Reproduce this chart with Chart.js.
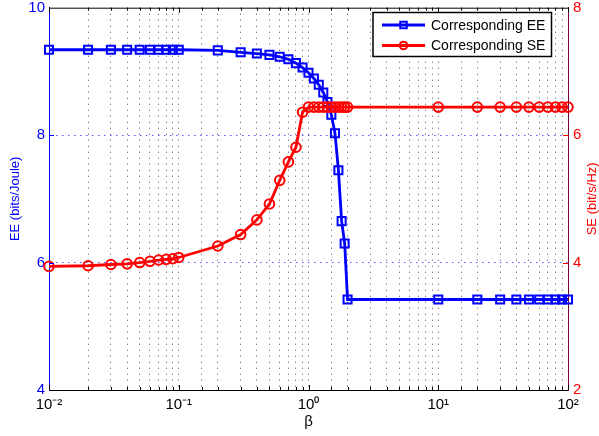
<!DOCTYPE html>
<html>
<head>
<meta charset="utf-8">
<script src="https://cdn.jsdelivr.net/npm/chart.js@4.4.0/dist/chart.umd.min.js"></script>
<style>
  html, body { margin: 0; padding: 0; background: #fff; }
  #wrap { width: 599px; height: 436px; }
</style>
</head>
<body>
<div id="wrap"><canvas id="chart" width="599" height="436"></canvas></div>
<script>
// beta values (log x axis)
const betaValues = [
  0.01, 0.02, 0.03, 0.04, 0.05, 0.06, 0.07, 0.08, 0.09, 0.1,
  0.2, 0.3, 0.4, 0.5, 0.6, 0.7, 0.8, 0.9, 1.0,
  1.1, 1.2, 1.3, 1.4, 1.5, 1.6, 1.7, 1.8, 1.9, 2.0,
  10, 20, 30, 40, 50, 60, 70, 80, 90, 100
];
// energy efficiency, left axis
const eeValues = [
  9.34, 9.34, 9.34, 9.34, 9.34, 9.34, 9.34, 9.34, 9.34, 9.34,
  9.33, 9.30, 9.28, 9.26, 9.23, 9.19, 9.13, 9.06, 8.98,
  8.89, 8.79, 8.67, 8.52, 8.32, 8.03, 7.45, 6.65, 6.30, 5.42,
  5.42, 5.42, 5.42, 5.42, 5.42, 5.42, 5.42, 5.42, 5.42, 5.42
];
// spectral efficiency, right axis
const seValues = [
  3.94, 3.95, 3.97, 3.98, 4.00, 4.02, 4.04, 4.05, 4.06, 4.08,
  4.26, 4.44, 4.67, 4.92, 5.29, 5.58, 5.81, 6.36, 6.44,
  6.44, 6.44, 6.44, 6.44, 6.44, 6.44, 6.44, 6.44, 6.44, 6.44,
  6.44, 6.44, 6.44, 6.44, 6.44, 6.44, 6.44, 6.44, 6.44, 6.44
];
const xTickValues = [0.01, 0.1, 1, 10, 100];
const xTickLabels = ["10⁻²", "10⁻¹", "10⁰", "10¹", "10²"];
const seriesNames = ["Corresponding EE", "Corresponding SE"];

const FONT = "'Liberation Sans', Arial, sans-serif";
const BLUE = "#0000ff";
const RED = "#ff0000";

function isDecade(v) {
  const l = Math.log10(v);
  return Math.abs(l - Math.round(l)) < 1e-6;
}

const extras = {
  id: "extras",
  afterDraw(chart) {
    const ctx = chart.ctx;
    const a = chart.chartArea;
    const x = chart.scales.x;
    const yl = chart.scales.y;
    const yr = chart.scales.y1;
    ctx.save();

    // top border
    ctx.strokeStyle = "#000";
    ctx.lineWidth = 1;
    ctx.beginPath();
    ctx.moveTo(a.left, a.top + 0.5);
    ctx.lineTo(a.right, a.top + 0.5);
    ctx.stroke();

    // inward x tick marks, bottom and top
    x.ticks.forEach(t => {
      const px = Math.round(x.getPixelForValue(t.value)) + 0.5;
      const len = isDecade(t.value) ? 5 : 3;
      ctx.beginPath();
      ctx.moveTo(px, a.bottom);
      ctx.lineTo(px, a.bottom - len);
      ctx.moveTo(px, a.top);
      ctx.lineTo(px, a.top + len);
      ctx.stroke();
    });

    // inward y tick marks
    [6, 8].forEach(v => {
      const py = Math.round(yl.getPixelForValue(v)) + 0.5;
      ctx.strokeStyle = BLUE;
      ctx.beginPath();
      ctx.moveTo(a.left, py);
      ctx.lineTo(a.left + 5, py);
      ctx.stroke();
    });
    [4, 6].forEach(v => {
      const py = Math.round(yr.getPixelForValue(v)) + 0.5;
      ctx.strokeStyle = RED;
      ctx.beginPath();
      ctx.moveTo(a.right, py);
      ctx.lineTo(a.right - 5, py);
      ctx.stroke();
    });

    // axis titles
    const midY = (a.top + a.bottom) / 2;
    ctx.font = "13px " + FONT;
    ctx.textAlign = "center";
    ctx.textBaseline = "middle";
    ctx.fillStyle = BLUE;
    ctx.save();
    ctx.translate(15, midY);
    ctx.rotate(-Math.PI / 2);
    ctx.fillText("EE (bits/Joule)", 0, 0);
    ctx.restore();
    ctx.fillStyle = RED;
    ctx.save();
    ctx.translate(592, midY);
    ctx.rotate(-Math.PI / 2);
    ctx.fillText("SE (bit/s/Hz)", 0, 0);
    ctx.restore();
    ctx.fillStyle = "#000";
    ctx.font = "15px " + FONT;
    ctx.fillText("β", (a.left + a.right) / 2, 422);

    // legend
    const lx = 373, ly = 12.5, lw = 178.5, lh = 44;
    ctx.fillStyle = "#fff";
    ctx.fillRect(lx, ly, lw, lh);
    ctx.strokeStyle = "#000";
    ctx.lineWidth = 1.5;
    ctx.strokeRect(lx, ly, lw, lh);
    const rows = [
      { y: 25, color: BLUE, style: "rect", r: 4.6 },
      { y: 45.5, color: RED, style: "circle", r: 3.8 }
    ];
    rows.forEach((row, i) => {
      ctx.strokeStyle = row.color;
      ctx.lineWidth = 2.8;
      ctx.beginPath();
      ctx.moveTo(382, row.y);
      ctx.lineTo(425, row.y);
      ctx.stroke();
      ctx.lineWidth = 2;
      ctx.fillStyle = "rgba(0,0,0,0)";
      Chart.helpers.drawPoint(ctx, { pointStyle: row.style, radius: row.r, borderWidth: 2, rotation: 0 }, 403.5, row.y);
      ctx.fillStyle = "#000";
      ctx.font = "14px " + FONT;
      ctx.textAlign = "left";
      ctx.textBaseline = "middle";
      ctx.fillText(seriesNames[i], 431, row.y + 1);
    });

    ctx.restore();
  }
};

new Chart(document.getElementById("chart"), {
  type: "line",
  data: {
    datasets: [
      {
        label: seriesNames[0],
        data: betaValues.map((b, i) => ({ x: b, y: eeValues[i] })),
        yAxisID: "y",
        borderColor: BLUE,
        backgroundColor: "rgba(0,0,0,0)",
        borderWidth: 2.8,
        pointStyle: "rect",
        pointRadius: 5.7,
        pointBorderWidth: 2,
        pointBorderColor: BLUE,
        pointBackgroundColor: "rgba(0,0,0,0)",
        tension: 0,
        clip: false,
        order: 2
      },
      {
        label: seriesNames[1],
        data: betaValues.map((b, i) => ({ x: b, y: seValues[i] })),
        yAxisID: "y1",
        borderColor: RED,
        backgroundColor: "rgba(0,0,0,0)",
        borderWidth: 2.8,
        pointStyle: "circle",
        pointRadius: 4.8,
        pointBorderWidth: 2,
        pointBorderColor: RED,
        pointBackgroundColor: "rgba(0,0,0,0)",
        tension: 0,
        clip: false,
        order: 1
      }
    ]
  },
  options: {
    responsive: false,
    animation: false,
    events: [],
    layout: { padding: { top: 7, left: 0, right: 0, bottom: 0 } },
    plugins: { legend: { display: false }, tooltip: { enabled: false } },
    scales: {
      x: {
        type: "logarithmic",
        position: "bottom",
        min: 0.01,
        max: 100,
        afterFit(s) { s.height = 46; s.paddingLeft = 0; s.paddingRight = 0; },
        border: { color: "#000", width: 1, dash: [1, 5] },
        grid: { color: "#555", lineWidth: 1, drawTicks: false },
        ticks: {
          autoSkip: false,
          maxRotation: 0,
          padding: 6,
          color: "#000",
          font: { family: FONT, size: 15 },
          callback(value) {
            const idx = xTickValues.findIndex(v => Math.abs(v - value) / v < 1e-6);
            return idx >= 0 ? xTickLabels[idx] : "";
          }
        }
      },
      y: {
        position: "left",
        min: 4,
        max: 10,
        afterFit(s) { s.width = 49; s.paddingTop = 0; s.paddingBottom = 0; },
        border: { color: BLUE, width: 1, dash: [1.5, 4.5] },
        grid: {
          drawTicks: false,
          lineWidth: 1,
          color(c) {
            const v = c.tick && c.tick.value;
            return (v === 6 || v === 8) ? "rgba(70,70,255,0.9)" : "rgba(0,0,0,0)";
          }
        },
        ticks: {
          stepSize: 2,
          padding: 4,
          color: BLUE,
          font: { family: FONT, size: 15 }
        }
      },
      y1: {
        position: "right",
        min: 2,
        max: 8,
        afterFit(s) { s.width = 31; s.paddingTop = 0; s.paddingBottom = 0; },
        border: { color: "#800040", width: 1 },
        grid: { display: false, drawTicks: false },
        ticks: {
          stepSize: 2,
          padding: 5,
          color: RED,
          font: { family: FONT, size: 15 }
        }
      }
    }
  },
  plugins: [extras]
});
</script>
</body>
</html>
